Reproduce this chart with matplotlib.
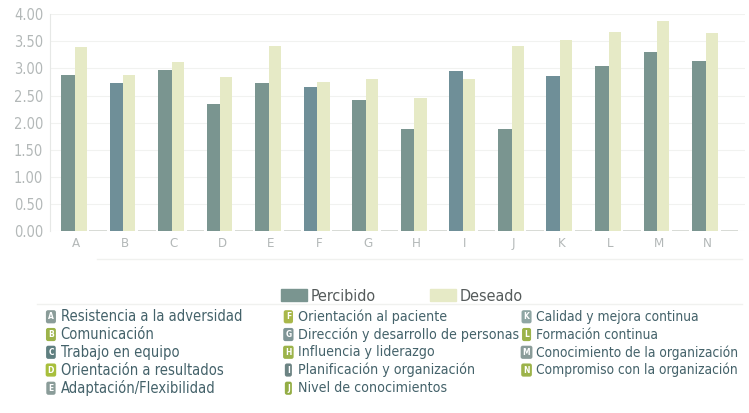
import numpy as np
import matplotlib.pyplot as plt
from matplotlib.patches import Patch

plt.rcParams['font.family'] = ['DejaVu Sans']
plt.rcParams['font.stretch'] = 'condensed'

cats = ['A', 'B', 'C', 'D', 'E', 'F', 'G', 'H', 'I', 'J', 'K', 'L', 'M', 'N']
percibido = [2.88, 2.73, 2.97, 2.34, 2.73, 2.65, 2.41, 1.88, 2.95, 1.88, 2.86, 3.04, 3.30, 3.13]
deseado = [3.39, 2.88, 3.12, 2.84, 3.41, 2.75, 2.80, 2.45, 2.80, 3.41, 3.52, 3.67, 3.87, 3.65]
resto = [0.03] * 14

competencias = [
    ['Resistencia a la adversidad', 'Comunicación', 'Trabajo en equipo',
     'Orientación a resultados', 'Adaptación/Flexibilidad'],
    ['Orientación al paciente', 'Dirección y desarrollo de personas',
     'Influencia y liderazgo', 'Planificación y organización', 'Nivel de conocimientos'],
    ['Calidad y mejora continua', 'Formación continua',
     'Conocimiento de la organización', 'Compromiso con la organización'],
]

c_perc = '#7a9590'
c_perc2 = '#6f8f98'
c_des = '#e6eac6'
c_txt = '#44626a'
icon_cols = [
    ['#8a9c99', '#9cb34a', '#5f7f80', '#a8bf3c', '#8a9c99'],
    ['#a9b84a', '#7f9596', '#9cb34a', '#6c8383', '#93ad45'],
    ['#8fa6a4', '#9cb34a', '#8a9c99', '#9cb34a'],
]

x = np.arange(len(cats))
perc_colors = [c_perc2 if c in 'BFIK' else c_perc for c in cats]

fig = plt.figure(figsize=(7.49, 4.13), dpi=100)
ax = fig.add_axes([0.067, 0.44, 0.928, 0.526])

ax.bar(x - 0.17, percibido, width=0.29, color=perc_colors, zorder=3)
ax.bar(x + 0.09, deseado, width=0.25, color=c_des, zorder=3)
ax.bar(x + 0.45, resto, width=0.36, color='#d8dbd6', zorder=3)

ax.set_ylim(0, 4)
ax.set_xlim(-0.54, 13.78)
ax.set_yticks(np.arange(0, 4.01, 0.5))
ax.set_yticklabels(['%.2f' % v for v in np.arange(0, 4.01, 0.5)])
ax.set_xticks(x)
ax.set_xticklabels(cats)
ax.tick_params(axis='y', length=0, labelsize=10.5, colors='#b3b8b8', pad=5)
ax.tick_params(axis='x', length=0, labelsize=9.5, colors='#b3b8b8', pad=4)
ax.grid(axis='y', color='#f1f2f0', lw=0.8, zorder=0)
for s in ['top', 'right', 'bottom']:
    ax.spines[s].set_visible(False)
ax.spines['left'].set_color('#e6e8e6')

# faint separators
fig.add_artist(plt.Line2D([0.13, 0.99], [0.372, 0.372], color='#f0f1ef', lw=1))
fig.add_artist(plt.Line2D([0.05, 0.99], [0.265, 0.265], color='#f0f1ef', lw=1))

handles = [Patch(color=c_perc, label='Percibido'), Patch(color=c_des, label='Deseado')]
fig.legend(handles=handles, loc='center', bbox_to_anchor=(0.537, 0.283), ncol=2,
           frameon=False, handlelength=1.6, handleheight=0.8, columnspacing=3.4,
           handletextpad=0.25, prop={'size': 11.5}, labelcolor='#555b5b')

col_x = [0.068, 0.385, 0.703]
col_fs = [10.5, 10.2, 9.9]
row_y = [0.233, 0.19, 0.147, 0.104, 0.06]
letters = iter(cats)
for ci, col in enumerate(competencias):
    for ri, name in enumerate(col):
        fig.text(col_x[ci], row_y[ri], next(letters), fontsize=6, color='white',
                 ha='center', va='center', fontweight='bold',
                 bbox=dict(boxstyle='round,pad=0.25', fc=icon_cols[ci][ri], ec='none'))
        fig.text(col_x[ci] + 0.013, row_y[ri], name, fontsize=col_fs[ci], color=c_txt,
                 ha='left', va='center')

fig.savefig('out.png', dpi=100)
